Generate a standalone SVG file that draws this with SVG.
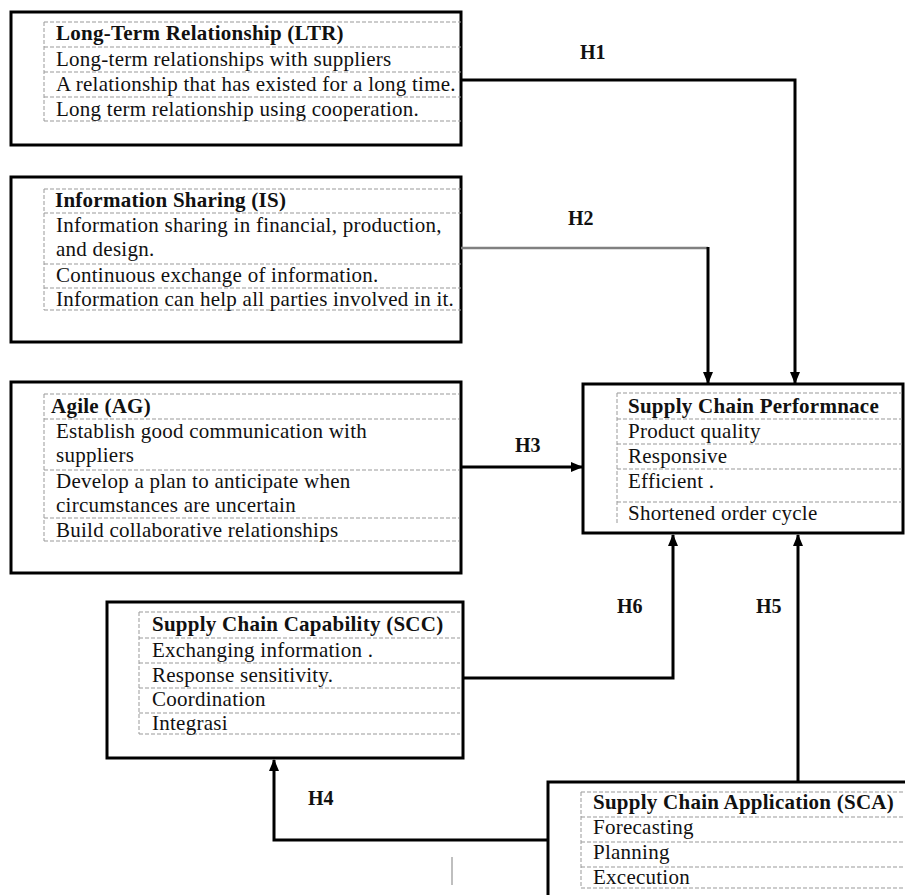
<svg xmlns="http://www.w3.org/2000/svg" width="905" height="895" viewBox="0 0 905 895">
<defs>
<style>
.box{fill:#fff;stroke:#000;stroke-width:3}
.dash{stroke:#999;stroke-width:1;stroke-dasharray:4 2;fill:none}
.t{font-family:"Liberation Serif","Times New Roman",serif;font-size:21px;letter-spacing:0.25px;fill:#111}
.b{font-weight:bold}
.lbl{font-family:"Liberation Serif","Times New Roman",serif;font-size:20px;font-weight:bold;fill:#111}
.con{fill:none;stroke:#000;stroke-width:3}
</style>
<marker id="ah" viewBox="0 0 12 10" markerWidth="12" markerHeight="10" refX="11" refY="5" orient="auto" markerUnits="userSpaceOnUse">
<path d="M0,0 L12,5 L0,10 z" fill="#000"/>
</marker>
</defs>
<rect width="905" height="895" fill="#fff"/>

<g id="ltr">
<rect class="box" x="11" y="12" width="450" height="133"/>
<path class="dash" d="M44,22V121M44,22H461M44,47H461M44,72H461M44,97H461M44,121H461"/>
<text class="t b" x="56" y="40">Long-Term Relationship (LTR)</text>
<text class="t" x="56" y="66">Long-term relationships with suppliers</text>
<text class="t" x="56" y="91">A relationship that has existed for a long time.</text>
<text class="t" x="56" y="116">Long term relationship using cooperation.</text>
</g>

<g id="is">
<rect class="box" x="11" y="177" width="450" height="165"/>
<path class="dash" d="M44,189V310M44,189H461M44,213H461M44,264H461M44,288H461M44,310H461"/>
<text class="t b" x="55" y="207">Information Sharing (IS)</text>
<text class="t" x="56" y="232">Information sharing in financial, production,</text>
<text class="t" x="56" y="256">and design.</text>
<text class="t" x="56" y="282">Continuous exchange of information.</text>
<text class="t" x="56" y="306">Information can help all parties involved in it.</text>
</g>

<g id="ag">
<rect class="box" x="11" y="382" width="450" height="191"/>
<path class="dash" d="M44,394V541M44,394H459M44,419H459M44,470H459M44,518H459M44,541H459"/>
<text class="t b" x="51" y="413">Agile (AG)</text>
<text class="t" x="56" y="438">Establish good communication with</text>
<text class="t" x="56" y="462">suppliers</text>
<text class="t" x="56" y="488">Develop a plan to anticipate when</text>
<text class="t" x="56" y="512">circumstances are uncertain</text>
<text class="t" x="56" y="537">Build collaborative relationships</text>
</g>

<g id="scp">
<rect class="box" x="583" y="384" width="320" height="149"/>
<path class="dash" d="M617,393V523M617,393H902M617,419H902M617,444H902M617,469H902M617,502H902"/>
<text class="t b" x="628" y="413">Supply Chain Performnace</text>
<text class="t" x="628" y="438">Product quality</text>
<text class="t" x="628" y="463">Responsive</text>
<text class="t" x="628" y="488">Efficient .</text>
<text class="t" x="628" y="520">Shortened order cycle</text>
</g>

<g id="scc">
<rect class="box" x="107" y="602" width="356" height="156"/>
<path class="dash" d="M139,612V734M139,612H460M139,638H460M139,663H460M139,688H460M139,713H460M139,734H460"/>
<text class="t b" x="152" y="631">Supply Chain Capability (SCC)</text>
<text class="t" x="152" y="657">Exchanging information .</text>
<text class="t" x="152" y="682">Response sensitivity.</text>
<text class="t" x="152" y="706">Coordination</text>
<text class="t" x="152" y="730">Integrasi</text>
</g>

<g id="sca">
<rect class="box" x="548" y="782" width="370" height="130"/>
<path class="dash" d="M581,792V888M581,792H905M581,817H905M581,842H905M581,867H905M581,888H905"/>
<text class="t b" x="593" y="809">Supply Chain Application (SCA)</text>
<text class="t" x="593" y="834">Forecasting</text>
<text class="t" x="593" y="859">Planning</text>
<text class="t" x="593" y="884">Excecution</text>
</g>

<g id="connectors">
<path class="con" d="M461,80H795V383" marker-end="url(#ah)"/>
<path d="M461,248H708" fill="none" stroke="#808080" stroke-width="2.5"/>
<path class="con" d="M708,247V383" marker-end="url(#ah)"/>
<path class="con" d="M461,467H582" marker-end="url(#ah)"/>
<path class="con" d="M463,678H673V535" marker-end="url(#ah)"/>
<path class="con" d="M798,782V535" marker-end="url(#ah)"/>
<path class="con" d="M548,840H274V760" marker-end="url(#ah)"/>
<line x1="452" y1="857" x2="452" y2="885" stroke="#aaa" stroke-width="1.5"/>
<text class="lbl" x="580" y="59">H1</text>
<text class="lbl" x="568" y="225">H2</text>
<text class="lbl" x="515" y="452">H3</text>
<text class="lbl" x="308" y="805">H4</text>
<text class="lbl" x="756" y="613">H5</text>
<text class="lbl" x="617" y="613">H6</text>
</g>
</svg>
